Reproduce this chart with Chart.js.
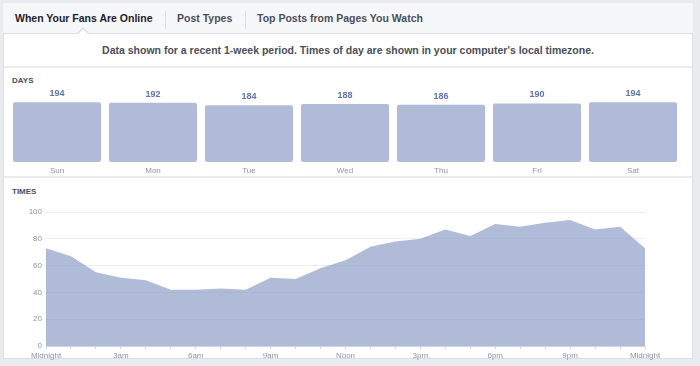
<!DOCTYPE html>
<html>
<head>
<meta charset="utf-8">
<script src="https://cdn.jsdelivr.net/npm/chart.js@4.4.1/dist/chart.umd.min.js"></script>
<style>
  html, body { margin: 0; padding: 0; }
  body { width: 700px; height: 366px; background: #e9ebee; position: relative; overflow: hidden;
         font-family: "Liberation Sans", Helvetica, Arial, sans-serif; }
  .card { position: absolute; left: 3px; top: 3px; width: 690px; height: 356px; background: #fff;
          border: 1px solid #dddfe2; border-top: none; box-sizing: border-box; }
  .tabs { position: absolute; left: 3px; top: 3px; width: 690px; height: 31px; background: #f6f7f9;
          border-bottom: 1px solid #dddfe2; box-sizing: border-box; }
  .tab { position: absolute; top: 0; line-height: 31px; font-size: 10.5px; font-weight: bold; color: #4b4f56; white-space: nowrap; }
  .tab.active { color: #1d2129; }
  .sep { position: absolute; top: 8px; width: 1px; height: 18px; background: #dddfe2; }
  .caret { position: absolute; left: 77px; top: 27px; width: 0; height: 0;
           border-left: 6px solid transparent; border-right: 6px solid transparent; border-bottom: 6px solid #dddfe2; }
  .caret2 { position: absolute; left: 78px; top: 29px; width: 0; height: 0;
           border-left: 5px solid transparent; border-right: 5px solid transparent; border-bottom: 5px solid #fff; }
  .subtitle { position: absolute; left: 3px; width: 690px; top: 44px; text-align: center; font-size: 10.5px;
              font-weight: bold; color: #4b4f56; white-space: nowrap; }
  .divider { position: absolute; left: 4px; width: 688px; height: 2px; background: #e9ebee; }
  .section { position: absolute; left: 12px; font-size: 8px; font-weight: bold; color: #4b4f56; }
  canvas { position: absolute; }
</style>
</head>
<body>
<div class="card"></div>
<div class="tabs">
  <div class="tab active" style="left:12px">When Your Fans Are Online</div>
  <div class="sep" style="left:162px"></div>
  <div class="tab" style="left:174px">Post Types</div>
  <div class="sep" style="left:242px"></div>
  <div class="tab" style="left:254px">Top Posts from Pages You Watch</div>
</div>
<div class="caret"></div>
<div class="caret2"></div>
<div class="subtitle">Data shown for a recent 1-week period. Times of day are shown in your computer's local timezone.</div>
<div class="divider" style="top:66px"></div>
<div class="section" style="top:76px">DAYS</div>
<div class="divider" style="top:176px"></div>
<div class="section" style="top:187px">TIMES</div>

<div style="position:absolute;left:0;top:84px;width:700px;height:92px"><canvas id="days"></canvas></div>
<div style="position:absolute;left:0;top:198px;width:700px;height:162px"><canvas id="times"></canvas></div>

<script>
const dayLabels = ['Sun', 'Mon', 'Tue', 'Wed', 'Thu', 'Fri', 'Sat'];
const dayFans = [194, 192, 184, 188, 186, 190, 194];

const hourLabels = ['Midnight', '1am', '2am', '3am', '4am', '5am', '6am', '7am', '8am', '9am', '10am', '11am',
  'Noon', '1pm', '2pm', '3pm', '4pm', '5pm', '6pm', '7pm', '8pm', '9pm', '10pm', '11pm', 'Midnight'];
const hourFans = [73, 67, 55, 51, 49, 42, 42, 43, 42, 51, 50, 58,
  64, 74, 78, 80, 87, 82, 91, 89, 92, 94, 87, 89, 73];
const timeTicks = [0, 20, 40, 60, 80, 100];

const fillColor = 'rgba(134, 151, 193, 0.65)';
const fontFam = '"Liberation Sans", Helvetica, Arial, sans-serif';

// numbers over the bars
const barValues = {
  id: 'barValues',
  afterDatasetsDraw(chart) {
    const ctx = chart.ctx;
    const meta = chart.getDatasetMeta(0);
    ctx.save();
    ctx.font = 'bold 9px ' + fontFam;
    ctx.fillStyle = '#5f74a6';
    ctx.textAlign = 'center';
    ctx.textBaseline = 'alphabetic';
    meta.data.forEach((bar, i) => {
      ctx.fillText(dayFans[i], bar.x, bar.y - 6);
    });
    ctx.restore();
  }
};

new Chart(document.getElementById('days'), {
  type: 'bar',
  data: {
    labels: dayLabels,
    datasets: [{ data: dayFans, backgroundColor: fillColor, borderRadius: 2, borderSkipped: false,
      barPercentage: 0.917, categoryPercentage: 1 }]
  },
  options: {
    responsive: true,
    maintainAspectRatio: false,
    animation: false,
    layout: { padding: { left: 9, right: 19, top: 4, bottom: 0 } },
    plugins: { legend: { display: false }, tooltip: { enabled: false } },
    scales: {
      x: {
        grid: { display: false, drawTicks: false },
        border: { display: false },
        ticks: { color: '#90949c', font: { size: 8, family: fontFam }, padding: 4 },
        afterFit: (scale) => { scale.height = 14; }
      },
      y: { display: false, min: 0, max: 240 }
    }
  },
  plugins: [barValues]
});

new Chart(document.getElementById('times'), {
  type: 'line',
  data: {
    labels: hourLabels,
    datasets: [{ data: hourFans, fill: 'origin', backgroundColor: fillColor, borderColor: fillColor,
      borderWidth: 0, pointRadius: 0, tension: 0 }]
  },
  options: {
    responsive: true,
    maintainAspectRatio: false,
    animation: false,
    layout: { padding: { left: 0, right: 55, top: 14, bottom: 0 } },
    plugins: { legend: { display: false }, tooltip: { enabled: false } },
    scales: {
      x: {
        grid: { drawOnChartArea: false, drawTicks: true, tickLength: 3, color: '#d3d6db' },
        border: { color: '#d3d6db' },
        ticks: {
          color: '#90949c', font: { size: 8, family: fontFam }, padding: 2,
          autoSkip: false, maxRotation: 0,
          callback: (v, i) => (i % 3 === 0 ? hourLabels[i] : '')
        },
        afterFit: (scale) => { scale.height = 14; }
      },
      y: {
        min: 0, max: 100,
        afterBuildTicks: (scale) => { scale.ticks = timeTicks.map(v => ({ value: v })); },
        grid: { color: '#eceef2', drawTicks: false },
        border: { display: false },
        ticks: { color: '#90949c', font: { size: 8, family: fontFam }, padding: 4 },
        afterFit: (scale) => { scale.width = 46; }
      }
    }
  }
});
</script>
</body>
</html>
